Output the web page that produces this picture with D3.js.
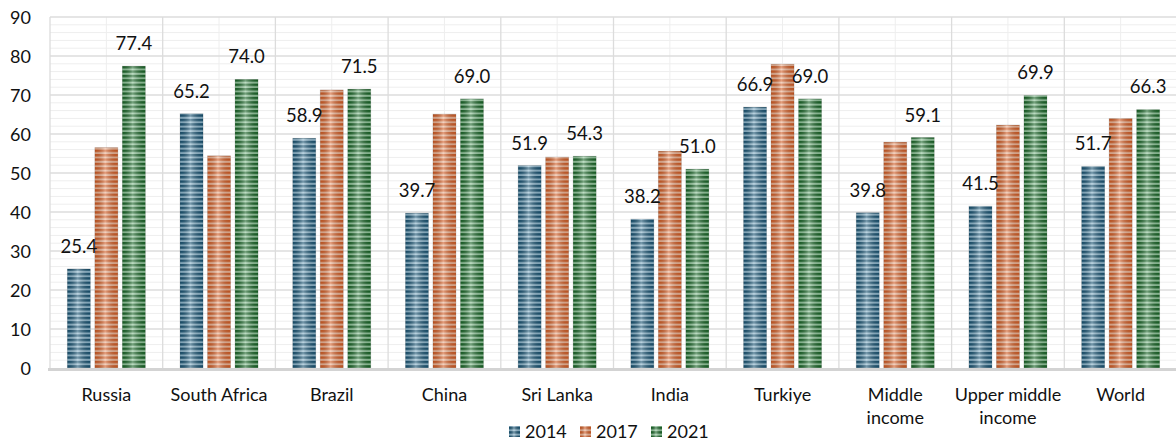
<!DOCTYPE html>
<html>
<head>
<meta charset="utf-8">
<script src="https://cdn.jsdelivr.net/npm/d3@7"></script>
<style>
  html, body { margin: 0; padding: 0; background: #ffffff; }
  svg { display: block; }
  text { font-family: Lato, "Noto Sans", "Liberation Sans", sans-serif; fill: #111; }
</style>
</head>
<body>
<svg id="chart" width="1176" height="440"></svg>
<script>
// ---- data ----
const categories = ["Russia", "South Africa", "Brazil", "China", "Sri Lanka", "India", "Turkiye", "Middle income", "Upper middle income", "World"];
const categoryLines = [["Russia"], ["South Africa"], ["Brazil"], ["China"], ["Sri Lanka"], ["India"], ["Turkiye"], ["Middle", "income"], ["Upper middle", "income"], ["World"]];
const seriesNames = ["2014", "2017", "2021"];
const values2014 = [25.4, 65.2, 58.9, 39.7, 51.9, 38.2, 66.9, 39.8, 41.5, 51.7];
const values2017 = [56.5, 54.4, 71.3, 65.1, 54.1, 55.6, 77.9, 57.9, 62.3, 64.0];
const values2021 = [77.4, 74.0, 71.5, 69.0, 54.3, 51.0, 69.0, 59.1, 69.9, 66.3];
const labeledSeries = ["2014", "2021"];
const yTicks = [0, 10, 20, 30, 40, 50, 60, 70, 80, 90];

// ---- styles ----
const palette = {
  "2014": { dark: "#1c5574", light: "#8fb8ce" },
  "2017": { dark: "#d25e27", light: "#eeb596" },
  "2021": { dark: "#1b6629", light: "#92c79c" }
};

const svg = d3.select("#chart");
const plotLeft = 50, plotRight = 1177, plotTop = 17, plotBottom = 368;

const x0 = d3.scaleBand().domain(categories).range([plotLeft, plotRight]).paddingInner(0).paddingOuter(0);
const groupW = 78;
const x1 = d3.scaleBand().domain(seriesNames).range([0, groupW]).paddingInner(0.164).paddingOuter(0);
const y = d3.scaleLinear().domain([0, 90]).range([plotBottom, plotTop]);

const seriesValues = { "2014": values2014, "2017": values2017, "2021": values2021 };

// defs: stripe patterns & gradient overlay
const defs = svg.append("defs");
seriesNames.forEach(s => {
  const p = defs.append("pattern").attr("id", "stripe" + s)
    .attr("patternUnits", "userSpaceOnUse").attr("width", 8).attr("height", 4.4);
  p.append("rect").attr("x", 0).attr("y", 0).attr("width", 8).attr("height", 4.4).attr("fill", palette[s].light);
  p.append("rect").attr("x", 0).attr("y", 0).attr("width", 8).attr("height", 2.4).attr("fill", palette[s].dark);
});
const g = defs.append("linearGradient").attr("id", "shine").attr("x1", "0").attr("x2", "1").attr("y1", "0").attr("y2", "0");
g.append("stop").attr("offset", "0").attr("stop-color", "#000").attr("stop-opacity", 0.1);
g.append("stop").attr("offset", "0.45").attr("stop-color", "#fff").attr("stop-opacity", 0.4);
g.append("stop").attr("offset", "1").attr("stop-color", "#000").attr("stop-opacity", 0.1);

// ---- gridlines ----
const grid = svg.append("g");
const minorY = d3.range(0, 91, 2).filter(v => v % 10 !== 0);
grid.selectAll("line.hmin").data(minorY).join("line")
  .attr("x1", plotLeft).attr("x2", plotRight).attr("y1", d => y(d)).attr("y2", d => y(d))
  .attr("stroke", "#eeeeee").attr("stroke-width", 1);
grid.selectAll("line.vmin").data(categories).join("line")
  .attr("x1", d => x0(d) + x0.bandwidth() / 2).attr("x2", d => x0(d) + x0.bandwidth() / 2)
  .attr("y1", plotTop).attr("y2", plotBottom)
  .attr("stroke", "#eeeeee").attr("stroke-width", 1);
grid.selectAll("line.hmaj").data(yTicks.filter(t => t > 0)).join("line")
  .attr("x1", plotLeft).attr("x2", plotRight).attr("y1", d => y(d)).attr("y2", d => y(d))
  .attr("stroke", "#dcdcdc").attr("stroke-width", 1.3);
grid.selectAll("line.vmaj").data(categories).join("line")
  .attr("x1", d => x0(d)).attr("x2", d => x0(d))
  .attr("y1", plotTop).attr("y2", plotBottom)
  .attr("stroke", "#dcdcdc").attr("stroke-width", 1.3);

// ---- bars ----
const groups = svg.append("g").selectAll("g").data(categories).join("g")
  .attr("transform", d => `translate(${x0(d) + (x0.bandwidth() - groupW) / 2},0)`);

seriesNames.forEach(s => {
  const vals = seriesValues[s];
  groups.append("rect")
    .attr("x", x1(s)).attr("width", x1.bandwidth())
    .attr("y", (d, i) => y(vals[i])).attr("height", (d, i) => y(0) - y(vals[i]))
    .attr("fill", `url(#stripe${s})`)
    .attr("stroke", "rgba(0,0,0,0.16)").attr("stroke-width", 0.8);
  groups.append("rect")
    .attr("x", x1(s)).attr("width", x1.bandwidth())
    .attr("y", (d, i) => y(vals[i])).attr("height", (d, i) => y(0) - y(vals[i]))
    .attr("fill", "url(#shine)");
});

// value labels
labeledSeries.forEach(s => {
  const vals = seriesValues[s];
  groups.append("text")
    .attr("x", x1(s) + x1.bandwidth() / 2)
    .attr("y", (d, i) => y(vals[i]) - 16)
    .attr("text-anchor", "middle")
    .attr("font-size", 18.5)
    .text((d, i) => vals[i].toFixed(1));
});

// baseline
svg.append("rect").attr("x", plotLeft - 2).attr("y", plotBottom).attr("width", plotRight - plotLeft + 2).attr("height", 3).attr("fill", "#d3d3d3");

// ---- y axis ----
const yAxis = d3.axisLeft(y).tickValues(yTicks).tickSize(0).tickPadding(0);
const ya = svg.append("g").attr("transform", `translate(31,0)`).call(yAxis);
ya.select(".domain").remove();
ya.selectAll("text").attr("font-size", 18).attr("fill", "#111").attr("font-family", "Lato, sans-serif").attr("dy", "0.36em");

// ---- x axis labels ----
const xl = svg.append("g");
categories.forEach((c, i) => {
  const t = xl.append("text")
    .attr("x", x0(c) + x0.bandwidth() / 2)
    .attr("y", 401)
    .attr("text-anchor", "middle")
    .attr("font-size", 18);
  categoryLines[i].forEach((ln, j) => {
    t.append("tspan").attr("x", x0(c) + x0.bandwidth() / 2).attr("y", 401 + j * 23).text(ln);
  });
});

// ---- legend ----
const legendX = [509, 580, 651];
const lg = svg.append("g");
seriesNames.forEach((s, i) => {
  lg.append("rect").attr("x", legendX[i]).attr("y", 426).attr("width", 11).attr("height", 11)
    .attr("fill", `url(#stripe${s})`);
  lg.append("rect").attr("x", legendX[i]).attr("y", 426).attr("width", 11).attr("height", 11)
    .attr("fill", "url(#shine)");
  lg.append("text").attr("x", legendX[i] + 16).attr("y", 437.5).attr("font-size", 18).text(s);
});
</script>
</body>
</html>
